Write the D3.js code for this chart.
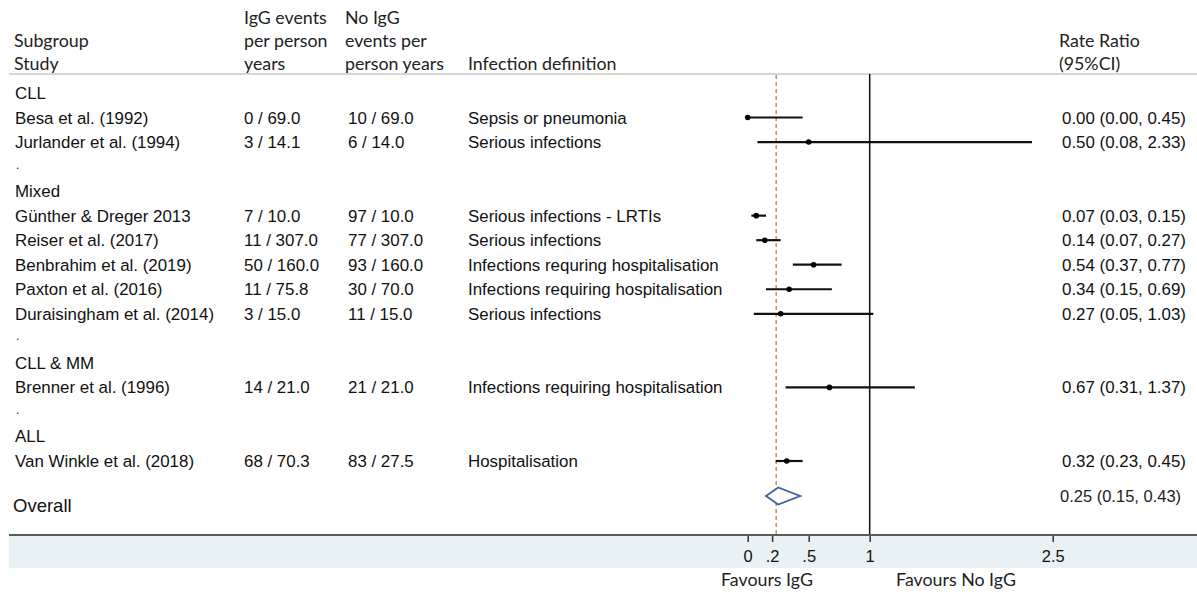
<!DOCTYPE html>
<html>
<head>
<meta charset="utf-8">
<script src="https://cdn.jsdelivr.net/npm/d3@7"></script>
<style>
  body { margin: 0; background: #fff; }
  svg { display: block; }
</style>
</head>
<body>
<div id="chart"></div>
<script>
// Rows of the table, top to bottom ("group" rows are subgroup headers, "sep" rows are the "." spacers)
const rowKinds = ["group", "study", "study", "sep", "group", "study", "study", "study", "study", "study", "sep", "group", "study", "sep", "group", "study"];
const groupNames = ["CLL", "Mixed", "CLL & MM", "ALL"];

const studies = ["Besa et al. (1992)", "Jurlander et al. (1994)", "Günther & Dreger 2013", "Reiser et al. (2017)",
  "Benbrahim et al. (2019)", "Paxton et al. (2016)", "Duraisingham et al. (2014)", "Brenner et al. (1996)", "Van Winkle et al. (2018)"];
const iggEvents = ["0 / 69.0", "3 / 14.1", "7 / 10.0", "11 / 307.0", "50 / 160.0", "11 / 75.8", "3 / 15.0", "14 / 21.0", "68 / 70.3"];
const noIggEvents = ["10 / 69.0", "6 / 14.0", "97 / 10.0", "77 / 307.0", "93 / 160.0", "30 / 70.0", "11 / 15.0", "21 / 21.0", "83 / 27.5"];
const definitions = ["Sepsis or pneumonia", "Serious infections", "Serious infections - LRTIs", "Serious infections",
  "Infections requring hospitalisation", "Infections requiring hospitalisation", "Serious infections",
  "Infections requiring hospitalisation", "Hospitalisation"];
const rateRatio = [0.00, 0.50, 0.07, 0.14, 0.54, 0.34, 0.27, 0.67, 0.32];
const ciLow = [0.00, 0.08, 0.03, 0.07, 0.37, 0.15, 0.05, 0.31, 0.23];
const ciHigh = [0.45, 2.33, 0.15, 0.27, 0.77, 0.69, 1.03, 1.37, 0.45];

const overall = { rr: 0.25, lo: 0.15, hi: 0.43 };

const tickValues = [0, 0.2, 0.5, 1, 2.5];
const tickLabels = ["0", ".2", ".5", "1", "2.5"];

const W = 1197, H = 594;
const arial = "'Liberation Sans', Arial, sans-serif";
const calibri = "Lato, 'Open Sans', sans-serif";

const svg = d3.select("#chart").append("svg")
  .attr("width", W).attr("height", H);

// scales
const x = d3.scaleLinear().domain([0, 2.5]).range([747.7, 1052.7]);
const rowY = d3.scaleLinear().domain([1, rowKinds.length - 1]).range([123.5, 467]);  // text baselines
const plotTop = 74, axisY = 535;

// header
const header = svg.append("g").attr("font-family", calibri).attr("font-size", 17.8).attr("fill", "#222");
const headCols = [
  { x: 14, lines: ["", "Subgroup", "Study"] },
  { x: 244, lines: ["IgG events", "per person", "years"] },
  { x: 345, lines: ["No IgG", "events per", "person years"] },
  { x: 468, lines: ["", "", "Infection definition"] },
  { x: 1059, lines: ["", "Rate Ratio", "(95%CI)"] }
];
headCols.forEach(c => {
  c.lines.forEach((t, i) => {
    if (!t) return;
    header.append("text").attr("x", c.x).attr("y", 24 + i * 23).text(t);
  });
});

svg.append("line")
  .attr("x1", 9).attr("x2", W).attr("y1", plotTop).attr("y2", plotTop)
  .attr("stroke", "#d6d6d6").attr("stroke-width", 2);

// axis band
svg.append("rect")
  .attr("x", 9).attr("y", axisY).attr("width", W - 9).attr("height", 33)
  .attr("fill", "#e8f1f3");

// reference lines
svg.append("line")
  .attr("x1", x(1)).attr("x2", x(1)).attr("y1", plotTop).attr("y2", axisY)
  .attr("stroke", "#111").attr("stroke-width", 1.5);
svg.append("line")
  .attr("x1", x(overall.rr) - 2).attr("x2", x(overall.rr) - 2).attr("y1", plotTop + 1).attr("y2", axisY)
  .attr("stroke", "#c9946c").attr("stroke-width", 1.6).attr("stroke-dasharray", "4,3");

// table rows
const body = svg.append("g").attr("font-family", arial).attr("font-size", 16.9).attr("fill", "#111");
let gi = 0, si = 0;
const studyRows = [];
rowKinds.forEach((k, r) => {
  const y = rowY(r);
  if (k === "group") {
    body.append("text").attr("x", 15).attr("y", y).text(groupNames[gi++]);
  } else if (k === "sep") {
    body.append("text").attr("x", 16).attr("y", y - 4).attr("font-size", 12).text(".");
  } else {
    const i = si++;
    studyRows.push({ i, y });
    body.append("text").attr("x", 15).attr("y", y).text(studies[i]);
    body.append("text").attr("x", 244).attr("y", y).text(iggEvents[i]);
    body.append("text").attr("x", 348).attr("y", y).text(noIggEvents[i]);
    body.append("text").attr("x", 468).attr("y", y).text(definitions[i]);
    body.append("text").attr("x", 1062).attr("y", y)
      .text(`${rateRatio[i].toFixed(2)} (${ciLow[i].toFixed(2)}, ${ciHigh[i].toFixed(2)})`);
  }
});

// confidence intervals and point estimates
const marks = svg.append("g");
marks.selectAll("line.ci").data(studyRows).enter().append("line")
  .attr("class", "ci")
  .attr("x1", d => x(ciLow[d.i])).attr("x2", d => x(ciHigh[d.i]))
  .attr("y1", d => d.y - 6).attr("y2", d => d.y - 6)
  .attr("stroke", "#111").attr("stroke-width", 2.2);
marks.selectAll("circle").data(studyRows).enter().append("circle")
  .attr("cx", d => x(rateRatio[d.i])).attr("cy", d => d.y - 6).attr("r", 2.8)
  .attr("fill", "#000");

// overall
const oy = 496;
svg.append("path")
  .attr("d", `M${x(overall.lo)},${oy} L${x(overall.rr)},${oy - 8.5} L${x(overall.hi)},${oy} L${x(overall.rr)},${oy + 8.5} Z`)
  .attr("fill", "#fff").attr("stroke", "#3b5ea8").attr("stroke-width", 1.8);
svg.append("text").attr("x", 13).attr("y", 512)
  .attr("font-family", arial).attr("font-size", 18.5).attr("fill", "#111").text("Overall");
svg.append("text").attr("x", 1060).attr("y", 502)
  .attr("font-family", arial).attr("font-size", 16.5).attr("fill", "#222")
  .text(`${overall.rr.toFixed(2)} (${overall.lo.toFixed(2)}, ${overall.hi.toFixed(2)})`);

// axis
const axis = d3.axisBottom(x)
  .tickValues(tickValues)
  .tickFormat((d, i) => tickLabels[i])
  .tickSize(7).tickPadding(8);
const ax = svg.append("g").attr("transform", `translate(0,${axisY})`).call(axis);
ax.select(".domain").remove();
ax.selectAll(".tick line").attr("stroke", "#333").attr("stroke-width", 1.5);
ax.selectAll(".tick text").attr("font-family", arial).attr("font-size", 16.5).attr("fill", "#111");

svg.append("line")
  .attr("x1", 9).attr("x2", W).attr("y1", axisY).attr("y2", axisY)
  .attr("stroke", "#5a5a5a").attr("stroke-width", 2);

// favours labels
svg.append("text").attr("x", 767).attr("y", 586).attr("text-anchor", "middle")
  .attr("font-family", calibri).attr("font-size", 17.8).attr("fill", "#222").text("Favours IgG");
svg.append("text").attr("x", 956).attr("y", 586).attr("text-anchor", "middle")
  .attr("font-family", calibri).attr("font-size", 17.8).attr("fill", "#222").text("Favours No IgG");
</script>
</body>
</html>
